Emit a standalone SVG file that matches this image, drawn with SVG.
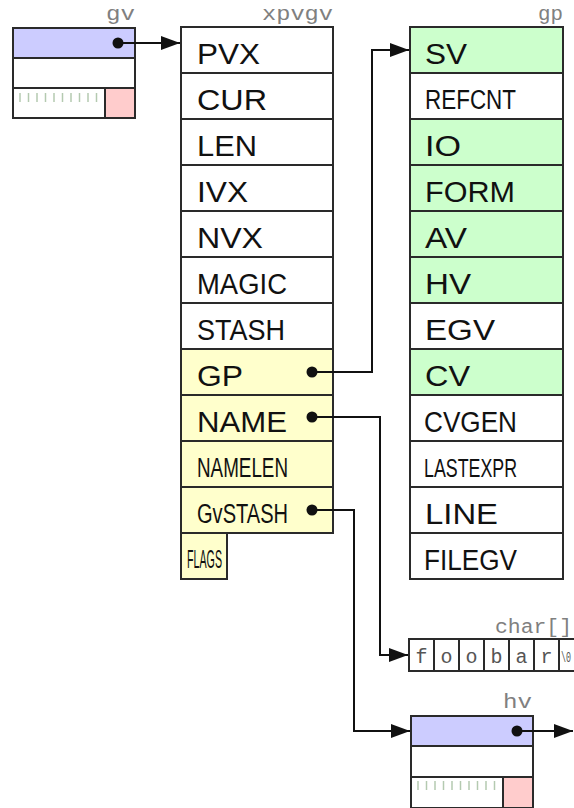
<svg xmlns="http://www.w3.org/2000/svg" width="574" height="808" viewBox="0 0 574 808">
<style>
.b{stroke:#2a2a2a;stroke-width:2}
.w{fill:#ffffff}
.y{fill:#ffffcc}
.g{fill:#ccffcc}
.bl{fill:#ccccff}
.pk{fill:#ffcccc}
.t{font-family:"Liberation Sans",Arial,sans-serif;font-size:29px;fill:#111}
.tn{font-family:"Liberation Sans",Arial,sans-serif;font-size:27px;fill:#111}
.lab{font-family:"Liberation Mono","Courier New",monospace;font-size:20px;fill:#808080}
.cc{font-family:"Liberation Mono","Courier New",monospace;font-size:20px;fill:#555;text-anchor:middle}
.tick{stroke:#b4cab0;stroke-width:1.5}
.con{fill:none;stroke:#111;stroke-width:2}
.dot{fill:#111}
</style>
<defs>
<marker id="ah" markerUnits="userSpaceOnUse" markerWidth="19" markerHeight="14" refX="19" refY="7" orient="auto">
<path d="M0,0 L19,7 L0,14 z" fill="#111"/>
</marker>
<g id="ticks">
<line class="tick" x1="20" y1="0" x2="20" y2="9"/>
<line class="tick" x1="28.5" y1="0" x2="28.5" y2="9"/>
<line class="tick" x1="37" y1="0" x2="37" y2="9"/>
<line class="tick" x1="45.5" y1="0" x2="45.5" y2="9"/>
<line class="tick" x1="54" y1="0" x2="54" y2="9"/>
<line class="tick" x1="62.5" y1="0" x2="62.5" y2="9"/>
<line class="tick" x1="71" y1="0" x2="71" y2="9"/>
<line class="tick" x1="79.5" y1="0" x2="79.5" y2="9"/>
<line class="tick" x1="88" y1="0" x2="88" y2="9"/>
<line class="tick" x1="96.5" y1="0" x2="96.5" y2="9"/>
</g>
</defs>
<rect width="574" height="808" fill="#ffffff"/>

<g id="gv">
<text class="lab" x="106" y="20" textLength="29" lengthAdjust="spacingAndGlyphs">gv</text>
<rect class="b bl" x="13" y="28" width="122" height="30"/>
<rect class="b w" x="13" y="58" width="122" height="30"/>
<rect class="b w" x="13" y="88" width="92" height="30"/>
<rect class="b pk" x="105" y="88" width="30" height="30"/>
<use href="#ticks" x="0" y="93"/>
</g>

<g id="xpvgv">
<text class="lab" x="262" y="20" textLength="71" lengthAdjust="spacingAndGlyphs">xpvgv</text>
<rect class="b w" x="181" y="27" width="152" height="46"/>
<rect class="b w" x="181" y="73" width="152" height="46"/>
<rect class="b w" x="181" y="119" width="152" height="46"/>
<rect class="b w" x="181" y="165" width="152" height="46"/>
<rect class="b w" x="181" y="211" width="152" height="46"/>
<rect class="b w" x="181" y="257" width="152" height="46"/>
<rect class="b w" x="181" y="303" width="152" height="46"/>
<rect class="b y" x="181" y="349" width="152" height="46"/>
<rect class="b y" x="181" y="395" width="152" height="46"/>
<rect class="b y" x="181" y="441" width="152" height="46"/>
<rect class="b y" x="181" y="487" width="152" height="46"/>
<rect class="b y" x="181" y="533" width="46" height="46"/>
<text class="t" x="197" y="64" textLength="63" lengthAdjust="spacingAndGlyphs">PVX</text>
<text class="t" x="197" y="110" textLength="70" lengthAdjust="spacingAndGlyphs">CUR</text>
<text class="t" x="197" y="156" textLength="60" lengthAdjust="spacingAndGlyphs">LEN</text>
<text class="t" x="197" y="202" textLength="51" lengthAdjust="spacingAndGlyphs">IVX</text>
<text class="t" x="197" y="248" textLength="66" lengthAdjust="spacingAndGlyphs">NVX</text>
<text class="t" x="197" y="294" textLength="90" lengthAdjust="spacingAndGlyphs">MAGIC</text>
<text class="t" x="197" y="340" textLength="88" lengthAdjust="spacingAndGlyphs">STASH</text>
<text class="t" x="197" y="386" textLength="46" lengthAdjust="spacingAndGlyphs">GP</text>
<text class="t" x="197" y="432" textLength="90" lengthAdjust="spacingAndGlyphs">NAME</text>
<text class="tn" x="197" y="477" textLength="91" lengthAdjust="spacingAndGlyphs">NAMELEN</text>
<text class="tn" x="197" y="523" textLength="91" lengthAdjust="spacingAndGlyphs">GvSTASH</text>
<text class="tn" x="187" y="568" textLength="35" lengthAdjust="spacingAndGlyphs" style="font-size:25px">FLAGS</text>
</g>

<g id="gp">
<text class="lab" x="538" y="20" textLength="25" lengthAdjust="spacingAndGlyphs">gp</text>
<rect class="b g" x="410" y="27" width="153" height="46"/>
<rect class="b w" x="410" y="73" width="153" height="46"/>
<rect class="b g" x="410" y="119" width="153" height="46"/>
<rect class="b g" x="410" y="165" width="153" height="46"/>
<rect class="b g" x="410" y="211" width="153" height="46"/>
<rect class="b g" x="410" y="257" width="153" height="46"/>
<rect class="b w" x="410" y="303" width="153" height="46"/>
<rect class="b g" x="410" y="349" width="153" height="46"/>
<rect class="b w" x="410" y="395" width="153" height="46"/>
<rect class="b w" x="410" y="441" width="153" height="46"/>
<rect class="b w" x="410" y="487" width="153" height="46"/>
<rect class="b w" x="410" y="533" width="153" height="46"/>
<text class="t" x="425" y="64" textLength="42" lengthAdjust="spacingAndGlyphs">SV</text>
<text class="tn" x="425" y="109" textLength="91" lengthAdjust="spacingAndGlyphs">REFCNT</text>
<text class="t" x="425" y="156" textLength="36" lengthAdjust="spacingAndGlyphs">IO</text>
<text class="t" x="425" y="202" textLength="90" lengthAdjust="spacingAndGlyphs">FORM</text>
<text class="t" x="425" y="248" textLength="42" lengthAdjust="spacingAndGlyphs">AV</text>
<text class="t" x="425" y="294" textLength="46" lengthAdjust="spacingAndGlyphs">HV</text>
<text class="t" x="425" y="340" textLength="70" lengthAdjust="spacingAndGlyphs">EGV</text>
<text class="t" x="425" y="386" textLength="45" lengthAdjust="spacingAndGlyphs">CV</text>
<text class="t" x="424" y="432" textLength="93" lengthAdjust="spacingAndGlyphs">CVGEN</text>
<text class="tn" x="424" y="477" textLength="93" lengthAdjust="spacingAndGlyphs" style="font-size:25px">LASTEXPR</text>
<text class="t" x="425" y="524" textLength="73" lengthAdjust="spacingAndGlyphs">LINE</text>
<text class="t" x="424" y="570" textLength="93" lengthAdjust="spacingAndGlyphs">FILEGV</text>
</g>

<g id="char">
<text class="lab" x="495" y="633" textLength="77" lengthAdjust="spacingAndGlyphs">char[]</text>
<rect class="b w" x="409" y="639" width="25" height="32"/>
<rect class="b w" x="434" y="639" width="25" height="32"/>
<rect class="b w" x="459" y="639" width="25" height="32"/>
<rect class="b w" x="484" y="639" width="25" height="32"/>
<rect class="b w" x="509" y="639" width="25" height="32"/>
<rect class="b w" x="534" y="639" width="25" height="32"/>
<rect class="b w" x="559" y="639" width="16" height="32"/>
<text class="cc" x="421.5" y="663">f</text>
<text class="cc" x="446.5" y="663">o</text>
<text class="cc" x="471.5" y="663">o</text>
<text class="cc" x="496.5" y="663">b</text>
<text class="cc" x="521.5" y="663">a</text>
<text class="cc" x="546.5" y="663">r</text>
<text class="cc" x="566" y="662" textLength="10" lengthAdjust="spacingAndGlyphs" style="font-size:14px">\0</text>
</g>

<g id="hv">
<text class="lab" x="503" y="708" textLength="29" lengthAdjust="spacingAndGlyphs">hv</text>
<rect class="b bl" x="411" y="716" width="122" height="30"/>
<rect class="b w" x="411" y="746" width="122" height="31"/>
<rect class="b w" x="411" y="777" width="92" height="31"/>
<rect class="b pk" x="503" y="777" width="30" height="31"/>
<use href="#ticks" x="398" y="781"/>
</g>

<g id="connectors">
<circle class="dot" cx="118" cy="43" r="5.5"/>
<path class="con" d="M118,43 H180" marker-end="url(#ah)"/>
<circle class="dot" cx="312" cy="372" r="5.5"/>
<path class="con" d="M312,372 H372 V50 H409" marker-end="url(#ah)"/>
<circle class="dot" cx="312" cy="417" r="5.5"/>
<path class="con" d="M312,417 H380 V655 H408" marker-end="url(#ah)"/>
<circle class="dot" cx="312" cy="510" r="5.5"/>
<path class="con" d="M312,510 H354 V731 H410" marker-end="url(#ah)"/>
<circle class="dot" cx="517" cy="731" r="5.5"/>
<path class="con" d="M517,731 H573" marker-end="url(#ah)"/>
</g>
</svg>
